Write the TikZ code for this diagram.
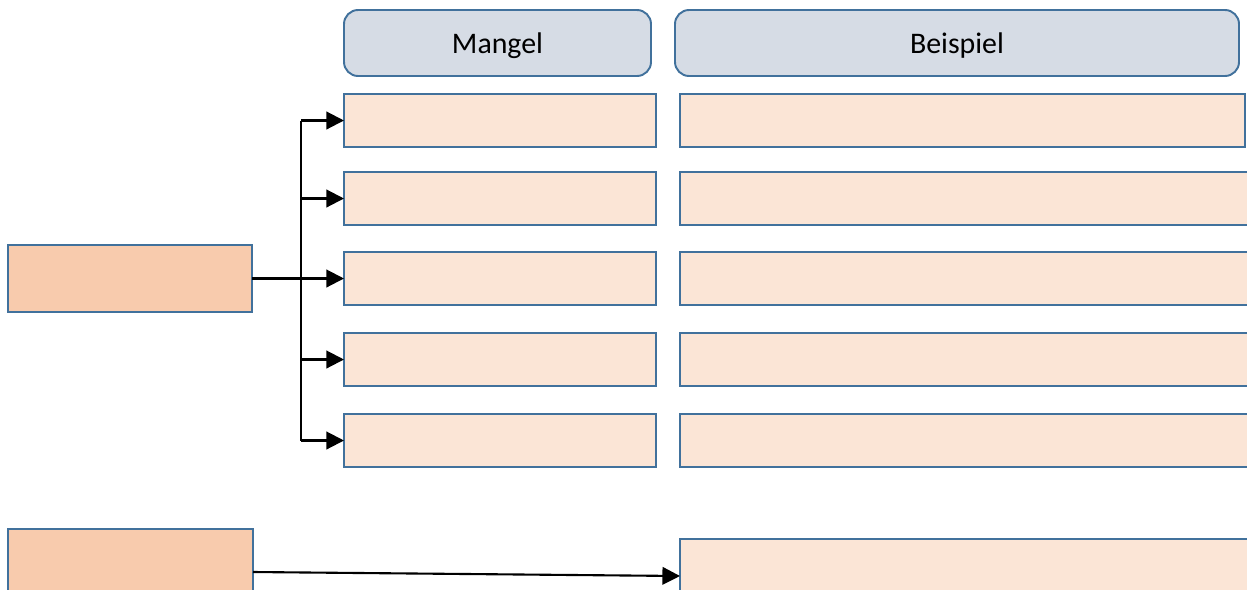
\documentclass[tikz,border=0pt]{standalone}
\usepackage{fontspec}
\setmainfont{Carlito}
\usetikzlibrary{arrows.meta}

\definecolor{kopf}{HTML}{D6DCE5}
\definecolor{rand}{HTML}{41719C}
\definecolor{zelle}{HTML}{FBE5D6}
\definecolor{quelle}{HTML}{F8CBAD}

\tikzset{
  box/.style={draw=rand, line width=1.1pt, outer sep=0pt, inner sep=0pt, anchor=north west},
  kopfbox/.style={box, fill=kopf, rounded corners=8pt, text depth=0pt, font=\fontsize{17}{20}\selectfont},
  zellbox/.style={box, fill=zelle},
  quellbox/.style={box, fill=quelle},
  pfeil/.style={line width=1.2pt, -{Triangle[length=10pt,width=10pt]}}
}

\begin{document}
\begin{tikzpicture}[x=0.02cm,y=-0.02cm]
	\def \k {0.02}

	% frame of the picture
	\useasboundingbox (0,0) rectangle (1247,589);
	\clip (0,0) rectangle (1247,589);

	% column heads
	\node[kopfbox, minimum width={307*\k cm}, minimum height={66*\k cm}] (mangel) at (344,10) {Mangel};
	\node[kopfbox, minimum width={564*\k cm}, minimum height={66*\k cm}] (beispiel) at (675,10) {Beispiel};

	% rows of the table
	\foreach \y/\n/\w in {94/1/565,172/2/600,252/3/600,333/4/600,414/5/600} {
		\node[zellbox, minimum width={312*\k cm}, minimum height={53*\k cm}] (m\n) at (344,\y) {};
		\node[zellbox, minimum width={\w*\k cm}, minimum height={53*\k cm}] (b\n) at (680,\y) {};
	}

	% left boxes
	\node[quellbox, minimum width={244*\k cm}, minimum height={67*\k cm}] (q1) at (8,245) {};
	\node[quellbox, minimum width={245*\k cm}, minimum height={86*\k cm}] (q2) at (8,529) {};
	\node[zellbox, minimum width={600*\k cm}, minimum height={74*\k cm}] (b6) at (680,539) {};

	% branching arrows
	\coordinate (ast) at (301,279);
	\draw[line width=1.2pt] (ast |- m1.west) -- (ast |- m5.west);
	\draw[pfeil] (q1.east) -- (m3.west);
	\foreach \n in {1,2,4,5} {
		\draw[pfeil] (ast |- m\n.west) -- (m\n.west);
	}

	\draw[pfeil] (q2.east) -- (b6.west);

\end{tikzpicture}
\end{document}
